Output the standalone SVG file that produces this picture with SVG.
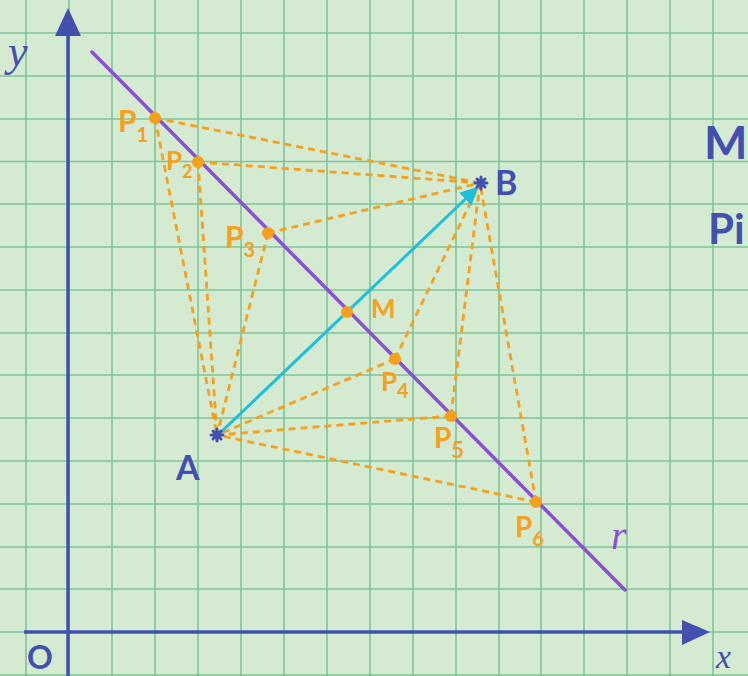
<svg xmlns="http://www.w3.org/2000/svg" width="748" height="676" viewBox="0 0 748 676">
<defs>
<style>
.grid line{stroke:#7dc597;stroke-width:1.6}
.axis{stroke:#4350b0;stroke-width:3.5;fill:none}
.dash{stroke:#f7a01c;stroke-width:2.8;stroke-dasharray:7 5;fill:none}
.pt{fill:#f7a01c}
.lbl{font-family:Lato,"Liberation Sans",sans-serif;font-weight:bold;fill:#f7a01c}
.blue{font-family:Lato,"Liberation Sans",sans-serif;font-weight:bold;fill:#4350b0}
.script{font-family:"Liberation Serif",serif;font-style:italic;fill:#4350b0}
</style>
<marker id="cyanHead" viewBox="0 0 10 10" refX="9" refY="5" markerWidth="6" markerHeight="6" markerUnits="strokeWidth" orient="auto">
<path d="M0,0 L10,5 L0,10 z" fill="#1cc0dc"/>
</marker>
</defs>
<rect width="748" height="676" fill="#d4ebd2"/>
<g class="grid" id="grid">
<line x1="26" y1="0" x2="26" y2="676"/><line x1="69" y1="0" x2="69" y2="676"/><line x1="112" y1="0" x2="112" y2="676"/><line x1="155" y1="0" x2="155" y2="676"/><line x1="198" y1="0" x2="198" y2="676"/><line x1="241" y1="0" x2="241" y2="676"/><line x1="284" y1="0" x2="284" y2="676"/><line x1="327" y1="0" x2="327" y2="676"/><line x1="370" y1="0" x2="370" y2="676"/><line x1="413" y1="0" x2="413" y2="676"/><line x1="456" y1="0" x2="456" y2="676"/><line x1="499" y1="0" x2="499" y2="676"/><line x1="541" y1="0" x2="541" y2="676"/><line x1="584" y1="0" x2="584" y2="676"/><line x1="627" y1="0" x2="627" y2="676"/><line x1="670" y1="0" x2="670" y2="676"/><line x1="713" y1="0" x2="713" y2="676"/>
<line x1="0" y1="33" x2="748" y2="33"/><line x1="0" y1="76" x2="748" y2="76"/><line x1="0" y1="119" x2="748" y2="119"/><line x1="0" y1="161.5" x2="748" y2="161.5"/><line x1="0" y1="204" x2="748" y2="204"/><line x1="0" y1="247" x2="748" y2="247"/><line x1="0" y1="290" x2="748" y2="290"/><line x1="0" y1="333" x2="748" y2="333"/><line x1="0" y1="375" x2="748" y2="375"/><line x1="0" y1="418" x2="748" y2="418"/><line x1="0" y1="461" x2="748" y2="461"/><line x1="0" y1="504" x2="748" y2="504"/><line x1="0" y1="547" x2="748" y2="547"/><line x1="0" y1="589" x2="748" y2="589"/><line x1="0" y1="632" x2="748" y2="632"/><line x1="0" y1="675" x2="748" y2="675"/>
</g>
<g id="axes">
<line class="axis" x1="68" y1="676" x2="68" y2="34"/>
<path d="M68,8 L55,36 L81,36 z" fill="#4350b0"/>
<line class="axis" x1="24" y1="632" x2="684" y2="632"/>
<path d="M710,632 L682,620 L682,645 z" fill="#4350b0"/>
<text class="script" x="8" y="66" font-size="44">y</text>
<text class="blue" x="27" y="669" font-size="32" font-weight="normal">O</text>
<text class="script" x="716" y="668" font-size="34">x</text>
</g>
<g id="line-r">
<line x1="92" y1="52" x2="625" y2="590" stroke="#8a4fd2" stroke-width="3.5" stroke-linecap="round"/>
<text x="611" y="549" font-family="Liberation Serif,serif" font-style="italic" font-size="40" fill="#8a4fd2">r</text>
</g>
<g id="connectors">
<path class="dash" d="M155,118 L480,183 M198,162 L480,183 M268,233 L480,183 M395,359 L480,183 M451,416 L480,183 M536,502 L480,183"/>
<path class="dash" d="M155,118 L217,435 M198,162 L217,435 M268,233 L217,435 M395,359 L217,435 M451,416 L217,435 M536,502 L217,435"/>
<line x1="219" y1="434" x2="477" y2="188" stroke="#1cc0dc" stroke-width="3" marker-end="url(#cyanHead)"/>
</g>
<g id="A">
<path d="M217,429 L217,441 M211,435 L223,435 M213,431 L221,439 M221,431 L213,439" stroke="#4350b0" stroke-width="3" stroke-linecap="round"/>
<text class="blue" x="176" y="480" font-size="34">A</text>
</g>
<g id="B">
<path d="M481,177 L481,189 M475,183 L487,183 M477,179 L485,187 M485,179 L477,187" stroke="#4350b0" stroke-width="3" stroke-linecap="round"/>
<text class="blue" x="495" y="195" font-size="34">B</text>
</g>
<g id="P1"><circle class="pt" cx="155" cy="118" r="6"/><text class="lbl" x="118" y="132" font-size="30">P<tspan font-size="20" dy="10">1</tspan></text></g>
<g id="P2"><circle class="pt" cx="198" cy="162" r="6"/><text class="lbl" x="166" y="170" font-size="26">P<tspan font-size="18" dy="8">2</tspan></text></g>
<g id="P3"><circle class="pt" cx="268" cy="233" r="6"/><text class="lbl" x="225" y="248" font-size="30">P<tspan font-size="20" dy="9">3</tspan></text></g>
<g id="M"><circle class="pt" cx="347" cy="312" r="6"/><text class="lbl" x="371" y="318" font-size="26">M</text></g>
<g id="P4"><circle class="pt" cx="395" cy="359" r="6"/><text class="lbl" x="381" y="391" font-size="26">P<tspan font-size="20" dy="7">4</tspan></text></g>
<g id="P5"><circle class="pt" cx="451" cy="416" r="6"/><text class="lbl" x="434" y="448" font-size="28">P<tspan font-size="22" dy="10">5</tspan></text></g>
<g id="P6"><circle class="pt" cx="536" cy="502" r="6"/><text class="lbl" x="515" y="537" font-size="28">P<tspan font-size="20" dy="9">6</tspan></text></g>
<g id="legend">
<text class="blue" x="704" y="159" font-size="46">M</text>
<text class="blue" x="708" y="244" font-size="42">Pi</text>
</g>
</svg>
